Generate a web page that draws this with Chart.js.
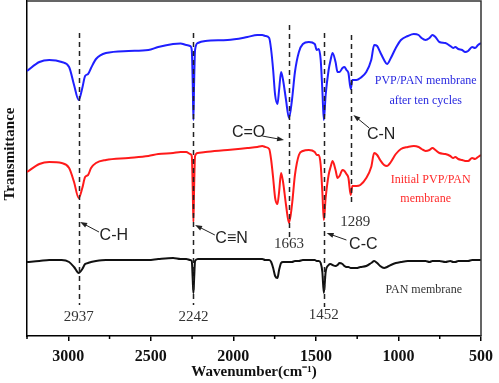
<!DOCTYPE html>
<html>
<head>
<meta charset="utf-8">
<script src="https://cdn.jsdelivr.net/npm/chart.js@4.4.1/dist/chart.umd.min.js"></script>
<style>
html,body{margin:0;padding:0;background:#fff;}
canvas{display:block;}
</style>
</head>
<body>
<canvas id="c" width="499" height="383"></canvas>
<script>
// ---- data (arbitrary transmittance units, curves offset vertically) ----
const wavenumbers = [3250,3175,3115,3040,2995,2965,2937,2915,2898,2880,2862,2832,2772,2635,2515,2455,2365,2320,2285,2262,2252,2246,2242,2238,2232,2215,2170,2035,1915,1855,1825,1807,1783,1771,1759,1747,1733,1723,1711,1699,1681,1663,1645,1627,1603,1579,1543,1507,1495,1483,1471,1461,1452,1441,1423,1411,1399,1381,1369,1357,1339,1327,1315,1303,1289,1279,1255,1231,1195,1165,1147,1129,1111,1087,1069,1046,1016,985,943,907,878,860,836,812,794,776,752,716,686,668,656,638,614,596,578,554,536,518,500];

const afterTenCycles = [265,274,276,274,269,251,236,248,260,262,268,277,283,285,286,289,292,292.5,291,290,286,251,216,251,286,293,295,296,299,301,301,300,298,286,266,241,232,246,264,256,236,218,236,264,284,292,294,292,286,287,276,246,216,241,266,276,283,274,264,264,268,269,266,263,247,256,256,258,264,276,291,290,284,276,272,278,288,296,300,302,301,298,296,298,301,299,294,293,290,288,289,287,286,284,285,289,288,291,293];

const initialPvpPan = [164,172,174,173,168,154,138,148,159,161,168,173,176,178,180,182,183,184,184,182,180,146,114,146,180,183,184,186,188,189,190,189,187,176,158,138,132,144,163,154,131,113,131,161,181,185,186,184,181,181,171,144,116,138,161,169,175,166,158,160,166,165,162,158,141,150,150,151,158,169,183,181,176,171,170,174,182,187,189,190,189,187,185,186,188,186,183,182,180,178,179,177,176,175,175,178,177,179,181];

const panMembrane = [74,75,76,76,74,69,63,67,72,73,74,75,76,76,76,77,78,77,77,76,75,56,43,56,75,77,77,77,77,77,77,76,76,74,68,60,58,66,73,74,74,74,74,75,75,76,76,76,75,75,73,64,43,64,71,72,71,70,71,73,72,70,69,69,68,68,68,69,70,73,75,73,70,68,69,71,73,74,75,75,75,75,75,74,75,75,75,74,75,74,74,75,75,75,75,76,76,76,76];

const xTickValues = [3000,2500,2000,1500,1000,500];
const xMinorTicks = [3250,2750,2250,1750,1250,750];

const peakLines = [2937,2242,1663,1452,1289];
const peakLineTop = [303,303,311,303,301];
const peakLineBottom = [31,31,99,29,131];
const peakLabels = ['2937','2242','1663','1452','1289'];
const peakLabelX = [2937,2242,1663,1452,1261];
const peakLabelY = [19,19,92,21,114];

const bondLabels = ['C-H','C\u2261N','C=O','C-N','C-C'];
const bondTextX = [2724,2011,1908,1105,1213];
const bondTextY = [100,97,203,201,91];
const bondArrowFromX = [2814,2112,1825,1177,1315];
const bondArrowFromY = [104,101,200,208,96];
const bondArrowToX = [2928,2232,1693,1273,1435];
const bondArrowToY = [114,111,196,221,103];

const seriesNotes = ['PVP/PAN membrane','after ten cycles','Initial PVP/PAN','membrane','PAN membrane'];
const seriesNoteX = [835,835,805,835,847];
const seriesNoteY = [255,235,156,137,46];
const seriesNoteColor = ['#2a2ae0','#2a2ae0','#ff2a2a','#ff2a2a','#333333'];

const yTitle = 'Transmittance';

function pts(vals){ return wavenumbers.map((w,i)=>({x:w,y:vals[i]})); }

const SERIF = '"Liberation Serif","Times New Roman",serif';
const SANS = '"Liberation Sans",Arial,sans-serif';

const annot = {
  id:'annot',
  afterDraw(chart){
    const {ctx, chartArea:a, scales:{x,y}} = chart;
    ctx.save();
    // frame top/right
    ctx.strokeStyle='#333'; ctx.lineWidth=1.5; ctx.setLineDash([]);
    ctx.beginPath();
    ctx.moveTo(a.left,a.top); ctx.lineTo(a.right,a.top); ctx.lineTo(a.right,a.bottom);
    ctx.stroke();
    // minor ticks
    ctx.strokeStyle='#000'; ctx.lineWidth=1.5;
    xMinorTicks.forEach(v=>{
      const px=x.getPixelForValue(v);
      ctx.beginPath(); ctx.moveTo(px,a.bottom); ctx.lineTo(px,a.bottom+3); ctx.stroke();
    });
    // y-axis title
    ctx.save();
    ctx.translate(10, 154); ctx.rotate(-Math.PI/2);
    ctx.font='bold 15px '+SERIF; ctx.fillStyle='#111'; ctx.textAlign='center'; ctx.textBaseline='middle';
    ctx.fillText(yTitle,0,0);
    ctx.restore();
    // dashed peak lines
    ctx.strokeStyle='#222'; ctx.lineWidth=1.5; ctx.setLineDash([5,4]);
    peakLines.forEach((v,i)=>{
      const px=Math.round(x.getPixelForValue(v))+0.5;
      ctx.beginPath(); ctx.moveTo(px,y.getPixelForValue(peakLineTop[i])); ctx.lineTo(px,y.getPixelForValue(peakLineBottom[i])); ctx.stroke();
    });
    ctx.setLineDash([]);
    // peak number labels
    ctx.fillStyle='#333'; ctx.font='15px '+SERIF; ctx.textAlign='center'; ctx.textBaseline='middle';
    peakLabels.forEach((t,i)=>{
      ctx.fillText(t, x.getPixelForValue(peakLabelX[i]), y.getPixelForValue(peakLabelY[i]));
    });
    // bond labels with arrows
    ctx.font='16px '+SANS; ctx.fillStyle='#222';
    bondLabels.forEach((t,i)=>{
      ctx.fillText(t, x.getPixelForValue(bondTextX[i]), y.getPixelForValue(bondTextY[i]));
      const x1=x.getPixelForValue(bondArrowFromX[i]), y1=y.getPixelForValue(bondArrowFromY[i]);
      const x2=x.getPixelForValue(bondArrowToX[i]), y2=y.getPixelForValue(bondArrowToY[i]);
      const ang=Math.atan2(y2-y1,x2-x1);
      ctx.strokeStyle='#222'; ctx.lineWidth=1;
      ctx.beginPath(); ctx.moveTo(x1,y1); ctx.lineTo(x2-5*Math.cos(ang),y2-5*Math.sin(ang)); ctx.stroke();
      ctx.beginPath();
      ctx.moveTo(x2,y2);
      ctx.lineTo(x2-7*Math.cos(ang)+2.5*Math.sin(ang), y2-7*Math.sin(ang)-2.5*Math.cos(ang));
      ctx.lineTo(x2-7*Math.cos(ang)-2.5*Math.sin(ang), y2-7*Math.sin(ang)+2.5*Math.cos(ang));
      ctx.closePath(); ctx.fill();
    });
    // series notes
    ctx.font='12px '+SERIF;
    seriesNotes.forEach((t,i)=>{
      ctx.fillStyle=seriesNoteColor[i];
      ctx.fillText(t, x.getPixelForValue(seriesNoteX[i]), y.getPixelForValue(seriesNoteY[i]));
    });
    ctx.restore();
  }
};

new Chart(document.getElementById('c'),{
  type:'line',
  data:{datasets:[
    {label:'PVP/PAN membrane after ten cycles', data:pts(afterTenCycles), borderColor:'#1f1fff', borderWidth:2},
    {label:'Initial PVP/PAN membrane', data:pts(initialPvpPan), borderColor:'#ff1a1a', borderWidth:2},
    {label:'PAN membrane', data:pts(panMembrane), borderColor:'#111', borderWidth:2}
  ]},
  options:{
    responsive:false, devicePixelRatio:1, animation:false,
    layout:{padding:{top:1,right:13,left:0,bottom:0}},
    elements:{point:{radius:0}, line:{cubicInterpolationMode:'monotone', fill:false}},
    plugins:{legend:{display:false}, tooltip:{enabled:false}},
    scales:{
      x:{type:'linear', reverse:true, min:500, max:3250,
        afterBuildTicks:s=>{ s.ticks = xTickValues.map(v=>({value:v})); },
        afterFit:s=>{ s.height=47; },
        grid:{display:true, drawOnChartArea:false, drawTicks:true, tickLength:5, color:'#000', lineWidth:1.5},
        border:{display:true, color:'#000', width:1.5},
        ticks:{font:{family:SERIF, size:16, weight:'bold'}, color:'#111', padding:6, maxRotation:0, autoSkip:false,
          callback:v=>String(v)},
        title:{display:true, text:'Wavenumber(cm\u207B\u00B9)', font:{family:SERIF, size:15, weight:'bold'}, color:'#111', padding:{top:0,bottom:2}}
      },
      y:{min:0, max:335,
        afterFit:s=>{ s.width=27; },
        grid:{display:false},
        border:{display:true, color:'#000', width:1.5},
        ticks:{display:false},
        title:{display:false}
      }
    }
  },
  plugins:[annot]
});
</script>
</body>
</html>
